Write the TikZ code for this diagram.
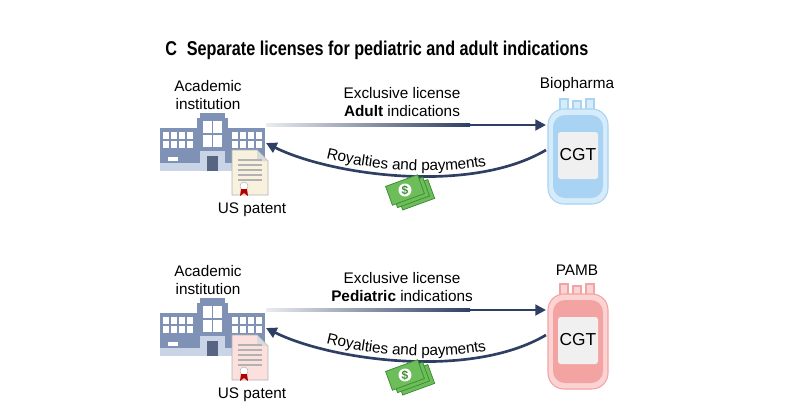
\documentclass[tikz,border=0pt]{standalone}
\usepackage{fontspec}
\setmainfont{Liberation Sans}
\usetikzlibrary{arrows.meta,decorations.text}
\definecolor{navy}{HTML}{2E3F63}
\definecolor{bld}{HTML}{7F92B5}
\definecolor{bldl}{HTML}{C9D4E6}
\definecolor{bluebag}{HTML}{A9D3F2}
\definecolor{bluebagl}{HTML}{D6ECFA}
\definecolor{redbag}{HTML}{F4A3A3}
\definecolor{redbagl}{HTML}{FBD3D3}
\definecolor{paper}{HTML}{F7F1DE}
\definecolor{paperp}{HTML}{FBE0DE}
\definecolor{money}{HTML}{6DBE5A}
\definecolor{moneyd}{HTML}{3F8F35}
\tikzset{
 lbl/.style={font=\fontsize{11.5}{13.5}\selectfont,align=center,text=black},
 arr/.style={navy,line width=2pt,-{Triangle[length=8pt,width=8pt]}},
}
\newcommand{\building}[2]{%
 \begin{scope}[shift={(#1,#2)}]
  \fill[bld] (0,10) rectangle (105,53);
  \fill[bld] (37,0) rectangle (68,53);
  \fill[bld] (40,-5) rectangle (65,0);
  \fill[bldl] (0,45) rectangle (105,53);
  \foreach \x in {3,19,72,88}{\fill[white] (\x,14) rectangle ++(14,16);
   \draw[bld,line width=1pt] (\x+7,14)--++(0,16) (\x,22)--++(14,0);}
  \fill[white] (43,3) rectangle (62,29);
  \draw[bld,line width=1pt] (52.5,3)--++(0,26) (43,16)--++(19,0);
  \fill[bldl] (40,33) rectangle (65,53);
  \fill[navy!80] (47,38) rectangle (58,53);
  \fill[white] (8,39) rectangle (18,43);
 \end{scope}}
\newcommand{\patent}[3]{%
 \begin{scope}[shift={(#1,#2)}]
  \fill[#3,draw=gray!60,line width=0.6pt] (0,0)--(25,0)--(36,11)--(36,45)--(0,45)--cycle;
  \fill[gray!30] (25,0)--(25,11)--(36,11)--cycle;
  \foreach \y in {10,15,20,25,30}{\draw[gray!60,line width=0.8pt] (6,\y)--(30,\y);}
  \draw[gray!60,fill=white] (12,36) circle (4);
  \fill[red!70!black] (9,39)--(8,46)--(12,43)--(16,46)--(15,39)--cycle;
 \end{scope}}
\newcommand{\money}[2]{%
 \begin{scope}[shift={(#1,#2)},rotate=20]
  \foreach \d in {8,4,0}{\fill[money,draw=moneyd,line width=0.6pt] (-17+\d,-10+\d) rectangle (17+\d,10+\d);}
  \fill[white] (0,0) circle (6.5);
  \node[text=moneyd,font=\bfseries\small] at (0,0) {\$};
 \end{scope}}
\newcommand{\bag}[4]{%
 \begin{scope}[shift={(#1,#2)}]
  \fill[#4,draw=#3,line width=0.8pt] (14,0) rectangle (22,12) (27,2) rectangle (35,12) (40,0) rectangle (48,12);
  \fill[#4,draw=#3,line width=0.8pt,rounded corners=12pt] (2,10) rectangle (62,105);
  \fill[#3,rounded corners=9pt] (7,16) rectangle (57,99);
  \fill[gray!12,rounded corners=2pt] (12,33) rectangle (52,80);
  \node[font=\fontsize{13}{15}\selectfont] at (32,56) {CGT};
 \end{scope}}
\begin{document}
\begin{tikzpicture}[x=0.75pt,y=-0.75pt]
\useasboundingbox (0,0) rectangle (800,419);
\node[anchor=west,font=\fontsize{15}{17}\selectfont\bfseries,inner sep=0] (title) at (165,50) {\scalebox{0.81}[1]{C\,\, Separate licenses for pediatric and adult indications}};
\foreach \oy/\who/\pat/\bagc/\bagl/\bold in {0/Biopharma/paper/bluebag/bluebagl/Adult,185/PAMB/paperp/redbag/redbagl/Pediatric}{
 \begin{scope}[yshift=-\oy*0.75pt]
  \node[lbl] (acad) at (208,95) {Academic\\institution};
  \building{160}{118}
  \coordinate (bR) at (266,125);
  \coordinate (bC) at (266,143);
  \patent{232}{150}{\pat}
  \node[lbl] (pat) at (252,210) {US patent};
  \node[lbl] (who) at (577,85) {\who};
  \bag{546}{99}{\bagc}{\bagl}
  \coordinate (gL) at (546,125);
  \coordinate (gC) at (546,150);
  \shade[left color=navy!10,right color=navy] (266,123.5) rectangle (470,126.5);
  \draw[arr] (469,125) -- (gL);
  \node[lbl] (lic) at (402,102) {Exclusive license\\\textbf{\bold} indications};
  \draw[arr] (gC) .. controls (470,195) and (330,175) .. (bC);
  \path[decorate,decoration={text along path,text align=center,raise=4pt,
   text={|\fontsize{11.5}{13}\selectfont|Royalties and payments}}] (bC) .. controls (330,175) and (470,195) .. (gC);
  \money{405}{190}
 \end{scope}}
\end{tikzpicture}
\end{document}
